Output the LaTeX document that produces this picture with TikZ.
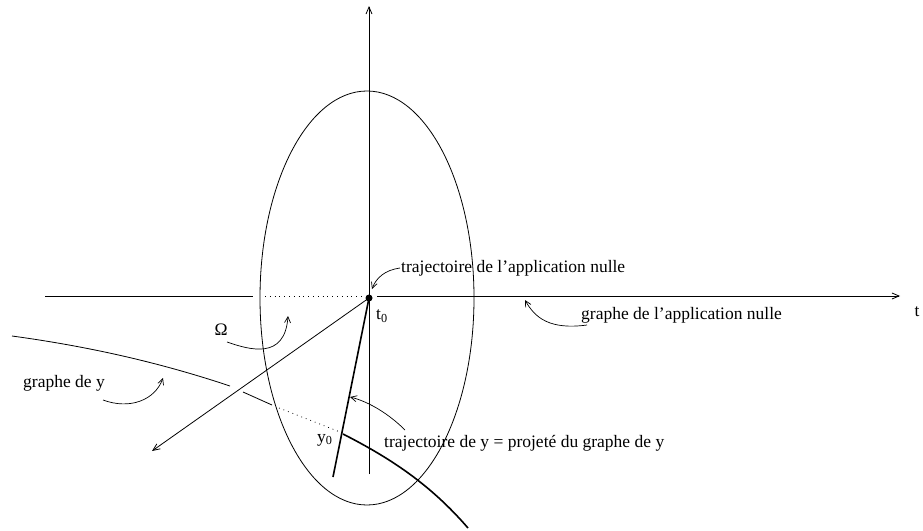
\documentclass[tikz,border=0pt]{standalone}
\usepackage{fontspec}
\setmainfont{Liberation Serif}
\usetikzlibrary{arrows.meta,shapes.geometric}
\begin{document}
\begin{tikzpicture}[x=1pt,y=-1pt,
  thin line/.style={line width=0.8pt},
  thick line/.style={line width=1.6pt},
  ptr/.style={line width=0.7pt,-{Straight Barb[length=6pt,width=6pt]}},
  lbl/.style={inner sep=1pt,font=\fontsize{17.5}{20}\selectfont},
  dotline/.style={line width=0.8pt,dash pattern=on 0.8pt off 4pt}]
\useasboundingbox (0,0) rectangle (923,530);
% axes
\coordinate (O) at (369,298);
\coordinate (hl) at (45,296);
\coordinate (hg) at (253,296);
\coordinate (hd1) at (265,296);
\coordinate (hd2) at (364,296);
\coordinate (hr) at (377,296);
\coordinate (htip) at (900,296);
\coordinate (vtop) at (369,6);
\coordinate (vbot) at (369,474);
\coordinate (dtip) at (152,451);
\coordinate (ytraj) at (333,477);
\draw[thin line] (hl) -- (hg);
\draw[dotline] (hd1) -- (hd2);
\draw[thin line,-{Straight Barb[length=7pt,width=6pt]}] (hr) -- (htip);
\draw[thin line,-{Straight Barb[length=7pt,width=6pt]}] (vbot) -- (vtop);
\draw[thin line,-{Straight Barb[length=7pt,width=6pt]}] (O) -- (dtip);
% ellipse
\node[draw,thin line,ellipse,minimum width=214pt,minimum height=414pt,inner sep=0pt] (Ell) at (367,298) {};
% trajectory of y
\draw[thick line] (O) -- (ytraj);
% graph of y
\coordinate (g0) at (12,336);
\coordinate (g1) at (230,386);
\coordinate (g2) at (243,392);
\coordinate (g3) at (272,405);
\coordinate (g4) at (279,408);
\coordinate (g5) at (340,432);
\coordinate (g6) at (343,434);
\coordinate (g7) at (468,528);
\draw[thin line] (g0) .. controls (100,348) and (170,366) .. (g1);
\draw[thin line] (g2) -- (g3);
\draw[dotline] (g4) -- (g5);
\draw[thick line] (g6) .. controls (390,458) and (430,484) .. (g7);
% dot
\fill (O) circle (3.5pt);
% labels
\node[lbl,anchor=west] (t0) at (375,316) {t\textsubscript{0}};
\node[lbl,anchor=west] (y0) at (316,440) {y\textsubscript{0}};
\node[lbl] (t) at (917,312) {t};
\node[lbl] (Om) at (221,330) {Ω};
\node[lbl,anchor=west] (tnul) at (400,268) {trajectoire de l’application nulle};
\node[lbl,anchor=west] (gnul) at (580,315) {graphe de l’application nulle};
\node[lbl] (gy) at (64,383) {graphe de y};
\node[lbl,anchor=west] (ty) at (383,443) {trajectoire de y = projeté du graphe de y};
% pointers
\coordinate (pO) at (288,316);
\coordinate (pt) at (372,289);
\coordinate (pg) at (525,300);
\coordinate (pgy) at (163,378);
\coordinate (pty) at (350,397);
\draw[ptr] (tnul.west) .. controls (385,270) and (376,278) .. (pt);
\draw[ptr] (587,325) .. controls (550,330) and (535,318) .. (pg);
\draw[ptr] (227,342) .. controls (250,350) and (285,360) .. (pO);
\draw[ptr] (103,400) .. controls (130,410) and (155,400) .. (pgy);
\draw[ptr] (405,430) .. controls (390,415) and (370,402) .. (pty);
\end{tikzpicture}
\end{document}
